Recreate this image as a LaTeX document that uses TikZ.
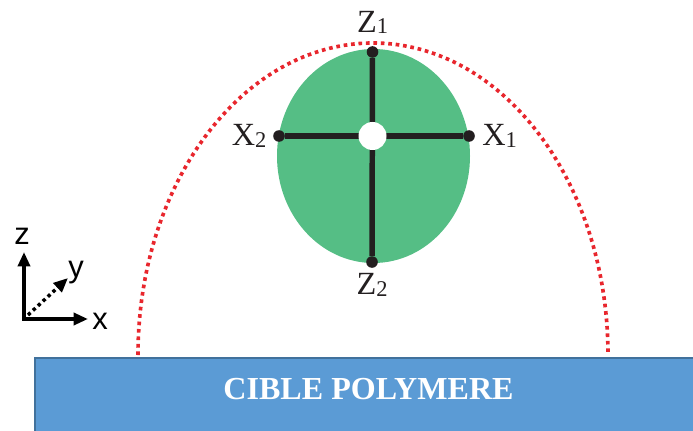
\documentclass[tikz,border=0pt]{standalone}
\usepackage{fontspec}
\setmainfont{Liberation Serif}
\setsansfont{Liberation Sans}
\usetikzlibrary{arrows.meta, positioning}
\definecolor{cGreen}{HTML}{55BE85}
\definecolor{cRed}{HTML}{E8262D}
\definecolor{cBlue}{HTML}{5B9BD5}
\definecolor{cEdge}{HTML}{41719C}
\definecolor{cInk}{HTML}{231F20}
\tikzset{
  pin/.style={circle, fill=cInk, inner sep=0pt, minimum size=2.9mm},
  bar/.style={cInk, line width=3.9pt},
  lbl/.style={font=\fontsize{23}{23}\selectfont, text=cInk, inner sep=1pt},
  axis/.style={line width=2.5pt, -{Triangle[length=3.6mm, width=3mm]}},
  axlbl/.style={font=\sffamily\fontsize{22}{22}\selectfont, inner sep=0pt, anchor=base west},
}
\newcommand{\idx}[2]{#1\raisebox{-1pt}{\fontsize{16}{16}\selectfont #2}}

\begin{document}
\begin{tikzpicture}[x=0.25mm, y=0.25mm]
    \useasboundingbox (0,0) rectangle (693,430);
    % target
    \draw[fill=cBlue, draw=cEdge, line width=1.5pt] (35,-5) rectangle (700,72);
    \node[font=\bfseries\fontsize{22.8}{22.8}\selectfont, text=white] (cible) at (368.5,41) {CIBLE POLYMERE};
    % plume outline
    \draw[cRed, line width=2.6pt, dash pattern=on 2.6pt off 2.7pt]
      (138,75) arc[start angle=180, end angle=0, x radius=235, y radius=312];
    % particle
    \fill[cGreen] (373.5,274) ellipse [x radius=96.5, y radius=107];
    \node[pin] (x1) at (469,294) {};
    \node[pin] (x2) at (279,294) {};
    \node[pin] (z1) at (372.5,378) {};
    \node[pin] (z2) at (372,168) {};
    \draw[bar] (x2) -- (x1);
    \draw[bar] (z1) -- (z2);
    \node[circle, fill=white, inner sep=0pt, minimum size=7mm] (hole) at (372.5,294) {};
    \node[lbl, above=2.6mm of z1] (z1lbl) {\idx{Z}{1}};
    \node[lbl, below=1mm of z2] (z2lbl) {\idx{Z}{2}};
    \node[lbl, right=1.4mm of x1] (x1lbl) {\idx{X}{1}};
    \node[lbl, left=1.2mm of x2] (x2lbl) {\idx{X}{2}};
    % axes
    \coordinate (orig) at (24,111);
    \coordinate (ztip) at (24,178);
    \coordinate (xtip) at (88,111);
    \coordinate (ystart) at (28,115);
    \coordinate (ytip) at (68,152);
    \draw[axis] ([yshift=-1.2pt]orig) -- (ztip);
    \draw[axis] ([xshift=-1.2pt]orig) -- (xtip);
    \draw[axis, dash pattern=on 2.4pt off 2.4pt] (ystart) -- (ytip);
    \node[axlbl] (zlbl) at (14,186) {z};
    \node[axlbl] (ylbl) at (68,153) {y};
    \node[axlbl] (xlbl) at (92,101) {x};
  \end{tikzpicture}
\end{document}
